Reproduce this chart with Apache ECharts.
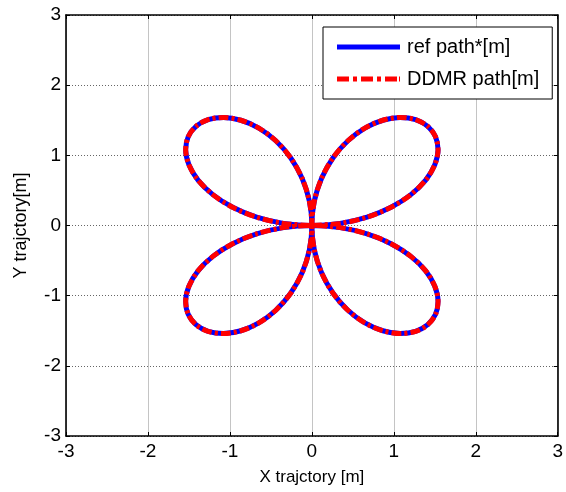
<!DOCTYPE html>
<html>
<head>
<meta charset="utf-8">
<script src="https://cdn.jsdelivr.net/npm/echarts@6/dist/echarts.min.js"></script>
<style>html,body{margin:0;padding:0;background:#fff}#c{width:566px;height:492px}</style>
</head>
<body>
<div id="c"></div>
<script>
// Reference path (four-leaf rose)
const refX = [0,0.346,0.674,0.966,1.208,1.389,1.500,1.540,1.509,1.414,1.266,1.078,0.866,0.647,0.440,0.259,0.119,0.030,0,
  0.030,0.119,0.259,0.440,0.647,0.866,1.078,1.266,1.414,1.509,1.540,1.500,1.389,1.208,0.966,0.674,0.346,0,
  -0.346,-0.674,-0.966,-1.208,-1.389,-1.500,-1.540,-1.509,-1.414,-1.266,-1.078,-0.866,-0.647,-0.440,-0.259,-0.119,-0.030,0,
  -0.030,-0.119,-0.259,-0.440,-0.647,-0.866,-1.078,-1.266,-1.414,-1.509,-1.540,-1.500,-1.389,-1.208,-0.966,-0.674,-0.346,0];
const refY = [0,0.030,0.119,0.259,0.440,0.647,0.866,1.078,1.266,1.414,1.509,1.540,1.500,1.389,1.208,0.966,0.674,0.346,0,
  -0.346,-0.674,-0.966,-1.208,-1.389,-1.500,-1.540,-1.509,-1.414,-1.266,-1.078,-0.866,-0.647,-0.440,-0.259,-0.119,-0.030,0,
  -0.030,-0.119,-0.259,-0.440,-0.647,-0.866,-1.078,-1.266,-1.414,-1.509,-1.540,-1.500,-1.389,-1.208,-0.966,-0.674,-0.346,0,
  0.346,0.674,0.966,1.208,1.389,1.500,1.540,1.509,1.414,1.266,1.078,0.866,0.647,0.440,0.259,0.119,0.030,0];
// DDMR path (overlaps the reference)
const ddmrX = [0,0.346,0.674,0.966,1.208,1.389,1.500,1.540,1.509,1.414,1.266,1.078,0.866,0.647,0.440,0.259,0.119,0.030,0,
  0.030,0.119,0.259,0.440,0.647,0.866,1.078,1.266,1.414,1.509,1.540,1.500,1.389,1.208,0.966,0.674,0.346,0,
  -0.346,-0.674,-0.966,-1.208,-1.389,-1.500,-1.540,-1.509,-1.414,-1.266,-1.078,-0.866,-0.647,-0.440,-0.259,-0.119,-0.030,0,
  -0.030,-0.119,-0.259,-0.440,-0.647,-0.866,-1.078,-1.266,-1.414,-1.509,-1.540,-1.500,-1.389,-1.208,-0.966,-0.674,-0.346,0];
const ddmrY = [0,0.030,0.119,0.259,0.440,0.647,0.866,1.078,1.266,1.414,1.509,1.540,1.500,1.389,1.208,0.966,0.674,0.346,0,
  -0.346,-0.674,-0.966,-1.208,-1.389,-1.500,-1.540,-1.509,-1.414,-1.266,-1.078,-0.866,-0.647,-0.440,-0.259,-0.119,-0.030,0,
  -0.030,-0.119,-0.259,-0.440,-0.647,-0.866,-1.078,-1.266,-1.414,-1.509,-1.540,-1.500,-1.389,-1.208,-0.966,-0.674,-0.346,0,
  0.346,0.674,0.966,1.208,1.389,1.500,1.540,1.509,1.414,1.266,1.078,0.866,0.647,0.440,0.259,0.119,0.030,0];
const axisMin = -3, axisMax = 3, axisStep = 1;
const seriesNames = ['ref path*[m]', 'DDMR path[m]'];
const xTitle = 'X trajctory [m]';
const yTitle = 'Y trajctory[m]';

const font = 'Liberation Sans, Arial, sans-serif';
const zip = (a, b) => a.map((v, i) => [v, b[i]]);
const chart = echarts.init(document.getElementById('c'), null, {renderer: 'canvas'});
const baseAxis = {
  type: 'value', min: axisMin, max: axisMax, interval: axisStep,
  axisLine: {show: true, onZero: false, lineStyle: {color: '#000', width: 1.6}},
  axisTick: {show: true, inside: true, length: 4, lineStyle: {color: '#000', width: 1}},
};
const solidIcon = 'path://M0,0H63V5H0Z';
const dashDotIcon = 'path://M0,0h12v5h-12z M16,0h4v5h-4z M24,0h12v5h-12z M40,0h4v5h-4z M48,0h12v5h-12z M62,0h1v5h-1z';
chart.setOption({
  animation: false,
  backgroundColor: '#fff',
  grid: {left: 66, right: 5, top: 15, bottom: 56, containLabel: false},
  legend: {
    orient: 'vertical', left: 323, top: 27,
    padding: [9, 13, 9, 14], itemGap: 10, itemWidth: 63, itemHeight: 22,
    backgroundColor: '#fff', borderColor: '#000', borderWidth: 1, borderRadius: 0,
    textStyle: {fontFamily: font, fontSize: 20, color: '#000', lineHeight: 22, padding: [0, 0, 0, 2]},
    data: [
      {name: seriesNames[0], icon: solidIcon},
      {name: seriesNames[1], icon: dashDotIcon}
    ]
  },
  xAxis: [
    Object.assign({}, baseAxis, {
      position: 'bottom', name: xTitle, nameLocation: 'middle', nameGap: 33,
      nameTextStyle: {fontFamily: font, fontSize: 17, color: '#000'},
      axisLabel: {fontFamily: font, fontSize: 19, color: '#000', margin: 6},
      splitLine: {show: true, lineStyle: {color: '#c4c4c4', width: 1, type: 'solid'}}
    }),
    Object.assign({}, baseAxis, {position: 'top', axisLabel: {show: false}, splitLine: {show: false}})
  ],
  yAxis: [
    Object.assign({}, baseAxis, {
      position: 'left', name: yTitle, nameLocation: 'middle', nameGap: 36,
      nameTextStyle: {fontFamily: font, fontSize: 18, color: '#000'},
      axisLabel: {fontFamily: font, fontSize: 19, color: '#000', margin: 5},
      splitLine: {show: true, lineStyle: {color: '#666', width: 1, type: [1, 2]}}
    }),
    Object.assign({}, baseAxis, {position: 'right', axisLabel: {show: false}, splitLine: {show: false}})
  ],
  series: [
    {name: seriesNames[0], type: 'line', xAxisIndex: 0, yAxisIndex: 0, data: zip(refX, refY),
     showSymbol: false, symbol: 'none', smooth: 0.3,
     lineStyle: {color: '#0000ff', width: 5}, itemStyle: {color: '#0000ff'}},
    {name: seriesNames[1], type: 'line', xAxisIndex: 0, yAxisIndex: 0, data: zip(ddmrX, ddmrY),
     showSymbol: false, symbol: 'none', smooth: 0.3,
     lineStyle: {color: '#ff0000', width: 5, type: [10, 3, 3, 3], cap: 'butt'}, itemStyle: {color: '#ff0000'}}
  ]
});
</script>
</body>
</html>
